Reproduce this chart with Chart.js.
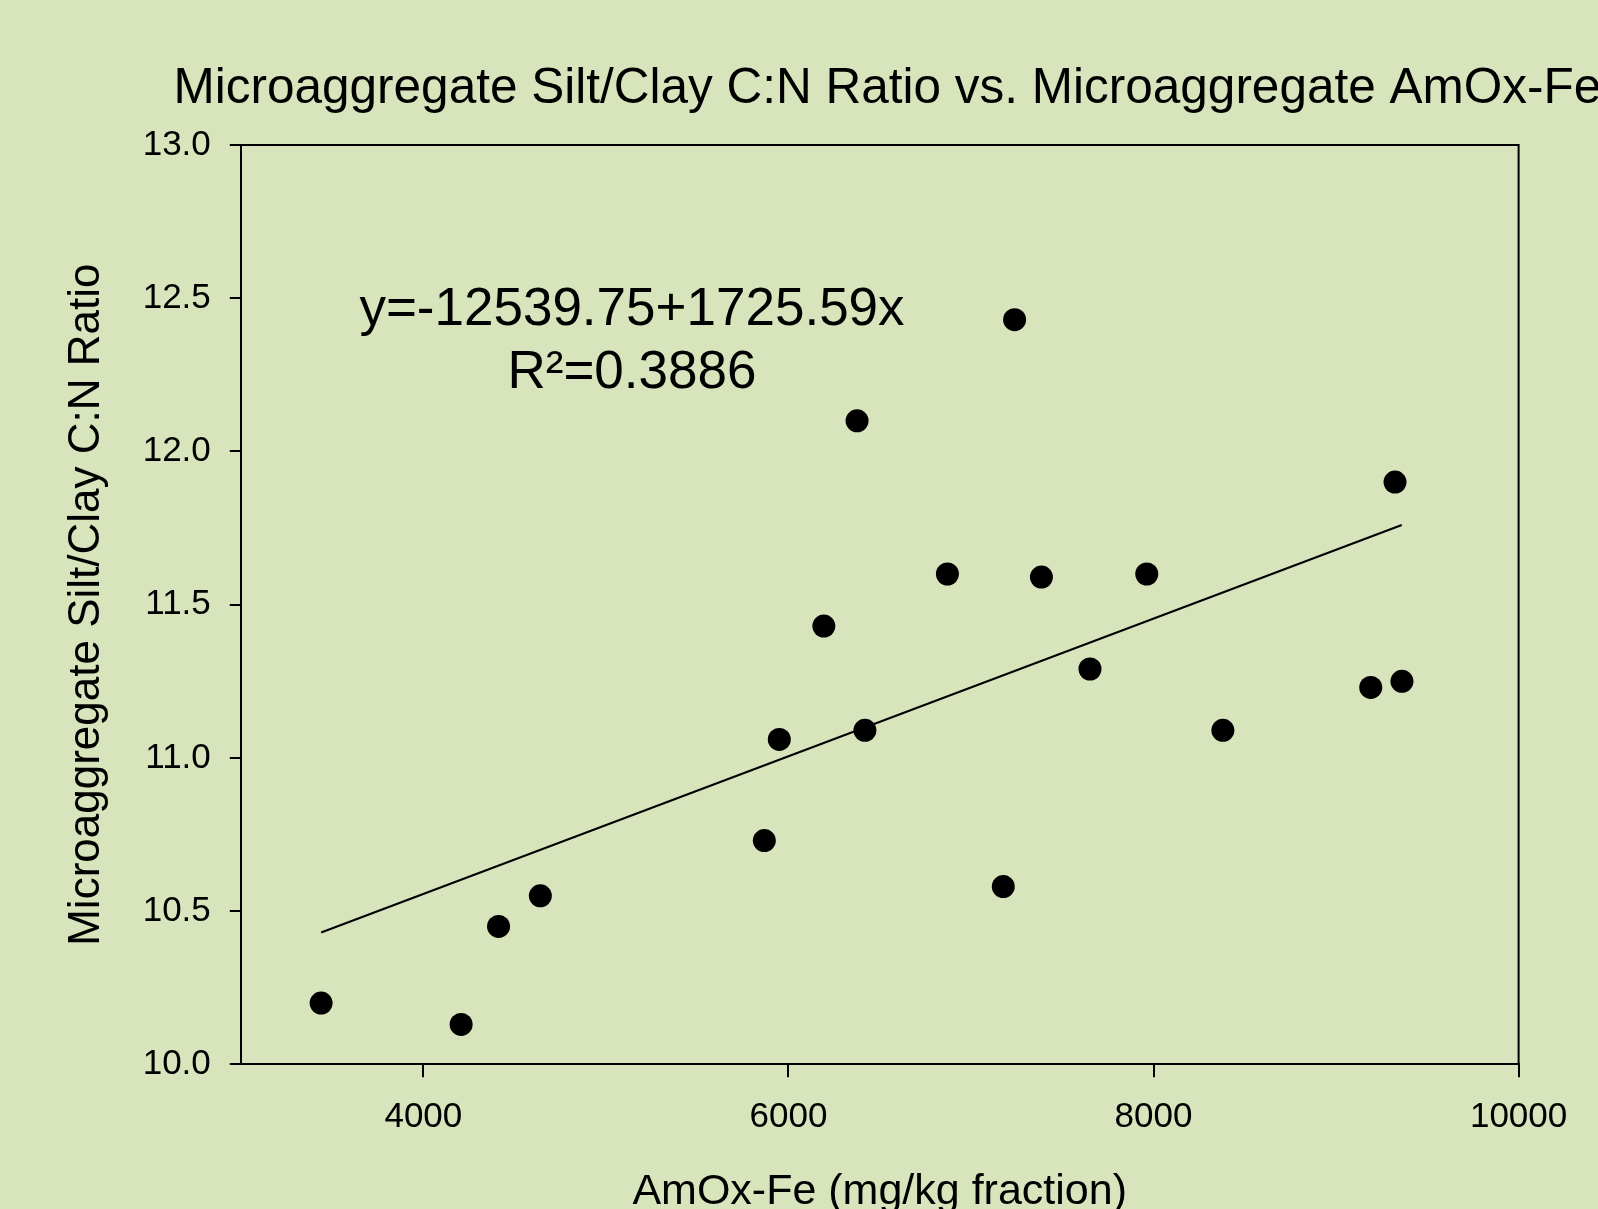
<!DOCTYPE html>
<html>
<head>
<meta charset="utf-8">
<title>Microaggregate Silt/Clay C:N Ratio vs. AmOx-Fe</title>
<script src="https://cdn.jsdelivr.net/npm/chart.js@4.4.1/dist/chart.umd.min.js"></script>
<style>
  html, body { margin: 0; padding: 0; background: #d8e4bc; }
  canvas { display: block; }
</style>
</head>
<body>
<canvas id="myChart" width="1598" height="1209"></canvas>
<script>
// 점 데이터 (AmOx-Fe, C:N ratio)
const amoxFe = [3440, 4207, 4412, 4641, 5868, 5950, 6194, 6376, 6419, 6871, 7177, 7239, 7386, 7652, 7963, 8380, 9190, 9323, 9361];
const cnRatio = [10.20, 10.13, 10.45, 10.55, 10.73, 11.06, 11.43, 12.10, 11.09, 11.60, 10.58, 12.43, 11.59, 11.29, 11.60, 11.09, 11.23, 11.90, 11.25];

// 회귀선 양 끝점
const fitX = [3440, 9360];
const fitY = [10.43, 11.76];

// 눈금
const xTickValues = [4000, 6000, 8000, 10000];
const yTickValues = [10.0, 10.5, 11.0, 11.5, 12.0, 12.5, 13.0];

const chartTitle = 'Microaggregate Silt/Clay C:N Ratio vs. Microaggregate AmOx-Fe';
const eqLines = ['y=-12539.75+1725.59x', 'R\u00B2=0.3886'];

const FONT = "'Liberation Sans', Arial, sans-serif";

// 배경 + 테두리 + 제목 + 식
const decorPlugin = {
	id: 'decor',
	beforeDraw(chart) {
		const ctx = chart.ctx;
		ctx.save();
		ctx.fillStyle = '#d8e4bc';
		ctx.fillRect(0, 0, chart.width, chart.height);
		ctx.restore();
	},
	beforeDatasetsDraw(chart) {
		const { ctx, chartArea } = chart;
		ctx.save();
		ctx.strokeStyle = '#000';
		ctx.lineWidth = 2;
		ctx.beginPath();
		ctx.moveTo(chartArea.left, chartArea.top);
		ctx.lineTo(chartArea.right, chartArea.top);
		ctx.lineTo(chartArea.right, chartArea.bottom);
		ctx.stroke();
		ctx.restore();
	},
	afterDraw(chart) {
		const { ctx, scales } = chart;
		ctx.save();
		ctx.fillStyle = '#000';
		ctx.textBaseline = 'alphabetic';
		// 제목은 왼쪽 정렬, 오른쪽 끝은 잘림
		ctx.textAlign = 'left';
		ctx.font = '49.5px ' + FONT;
		ctx.fillText(chartTitle, 173.5, 103);

		ctx.textAlign = 'center';
		ctx.font = '53px ' + FONT;
		const cx = scales.x.getPixelForValue(5143);
		ctx.fillText(eqLines[0], cx, scales.y.getPixelForValue(12.413));
		ctx.fillText(eqLines[1], cx, scales.y.getPixelForValue(12.207));
		ctx.restore();
	}
};

let ctx = document.getElementById('myChart').getContext('2d');
let myChart = new Chart(ctx, {
	type : 'scatter',
	data : {
		datasets : [ {
			label : 'data',
			data : amoxFe.map((x, i) => ({ x: x, y: cnRatio[i] })),
			backgroundColor : '#000',
			borderWidth : 0,
			pointRadius : 11.5,
			pointHoverRadius : 11.5
		}, {
			label : 'fit',
			type : 'line',
			data : fitX.map((x, i) => ({ x: x, y: fitY[i] })),
			borderColor : '#000',
			borderWidth : 2,
			pointRadius : 0,
			fill : false
		} ]
	},
	options : {
		responsive : false,
		animation : false,
		layout : { padding : { top: 145, right: 79.4, left: 0, bottom: 0 } },
		plugins : {
			legend : { display : false },
			title : { display : false },
			tooltip : { enabled : false }
		},
		scales : {
			x : {
				type : 'linear',
				min : 3000,
				max : 10000,
				afterBuildTicks : (scale) => { scale.ticks = xTickValues.map(v => ({ value: v })); },
				afterFit : (scale) => { scale.height = 144.7; },
				ticks : {
					color : '#000',
					font : { family : FONT, size : 35 },
					padding : 19,
					maxRotation : 0,
					callback : (v) => String(v)
				},
				grid : {
					drawOnChartArea : false,
					drawTicks : true,
					tickLength : 13,
					color : '#000',
					lineWidth : 2
				},
				border : { display : true, color : '#000', width : 2 },
				title : {
					display : true,
					text : 'AmOx-Fe (mg/kg fraction)',
					color : '#000',
					font : { family : FONT, size : 43, lineHeight : 0.8 },
					padding : 0
				}
			},
			y : {
				type : 'linear',
				min : 10,
				max : 13,
				afterBuildTicks : (scale) => { scale.ticks = yTickValues.map(v => ({ value: v })); },
				afterFit : (scale) => { scale.width = 240.8; },
				ticks : {
					color : '#000',
					font : { family : FONT, size : 35 },
					padding : 19,
					callback : (v) => Number(v).toFixed(1)
				},
				grid : {
					drawOnChartArea : false,
					drawTicks : true,
					tickLength : 11,
					color : '#000',
					lineWidth : 2
				},
				border : { display : true, color : '#000', width : 2 },
				title : {
					display : true,
					text : 'Microaggregate Silt/Clay C:N Ratio',
					color : '#000',
					font : { family : FONT, size : 44, lineHeight : 1.2 },
					padding : { top : 60, bottom : 0 }
				}
			}
		}
	},
	plugins : [ decorPlugin ]
}); // new Chart
</script>
</body>
</html>
